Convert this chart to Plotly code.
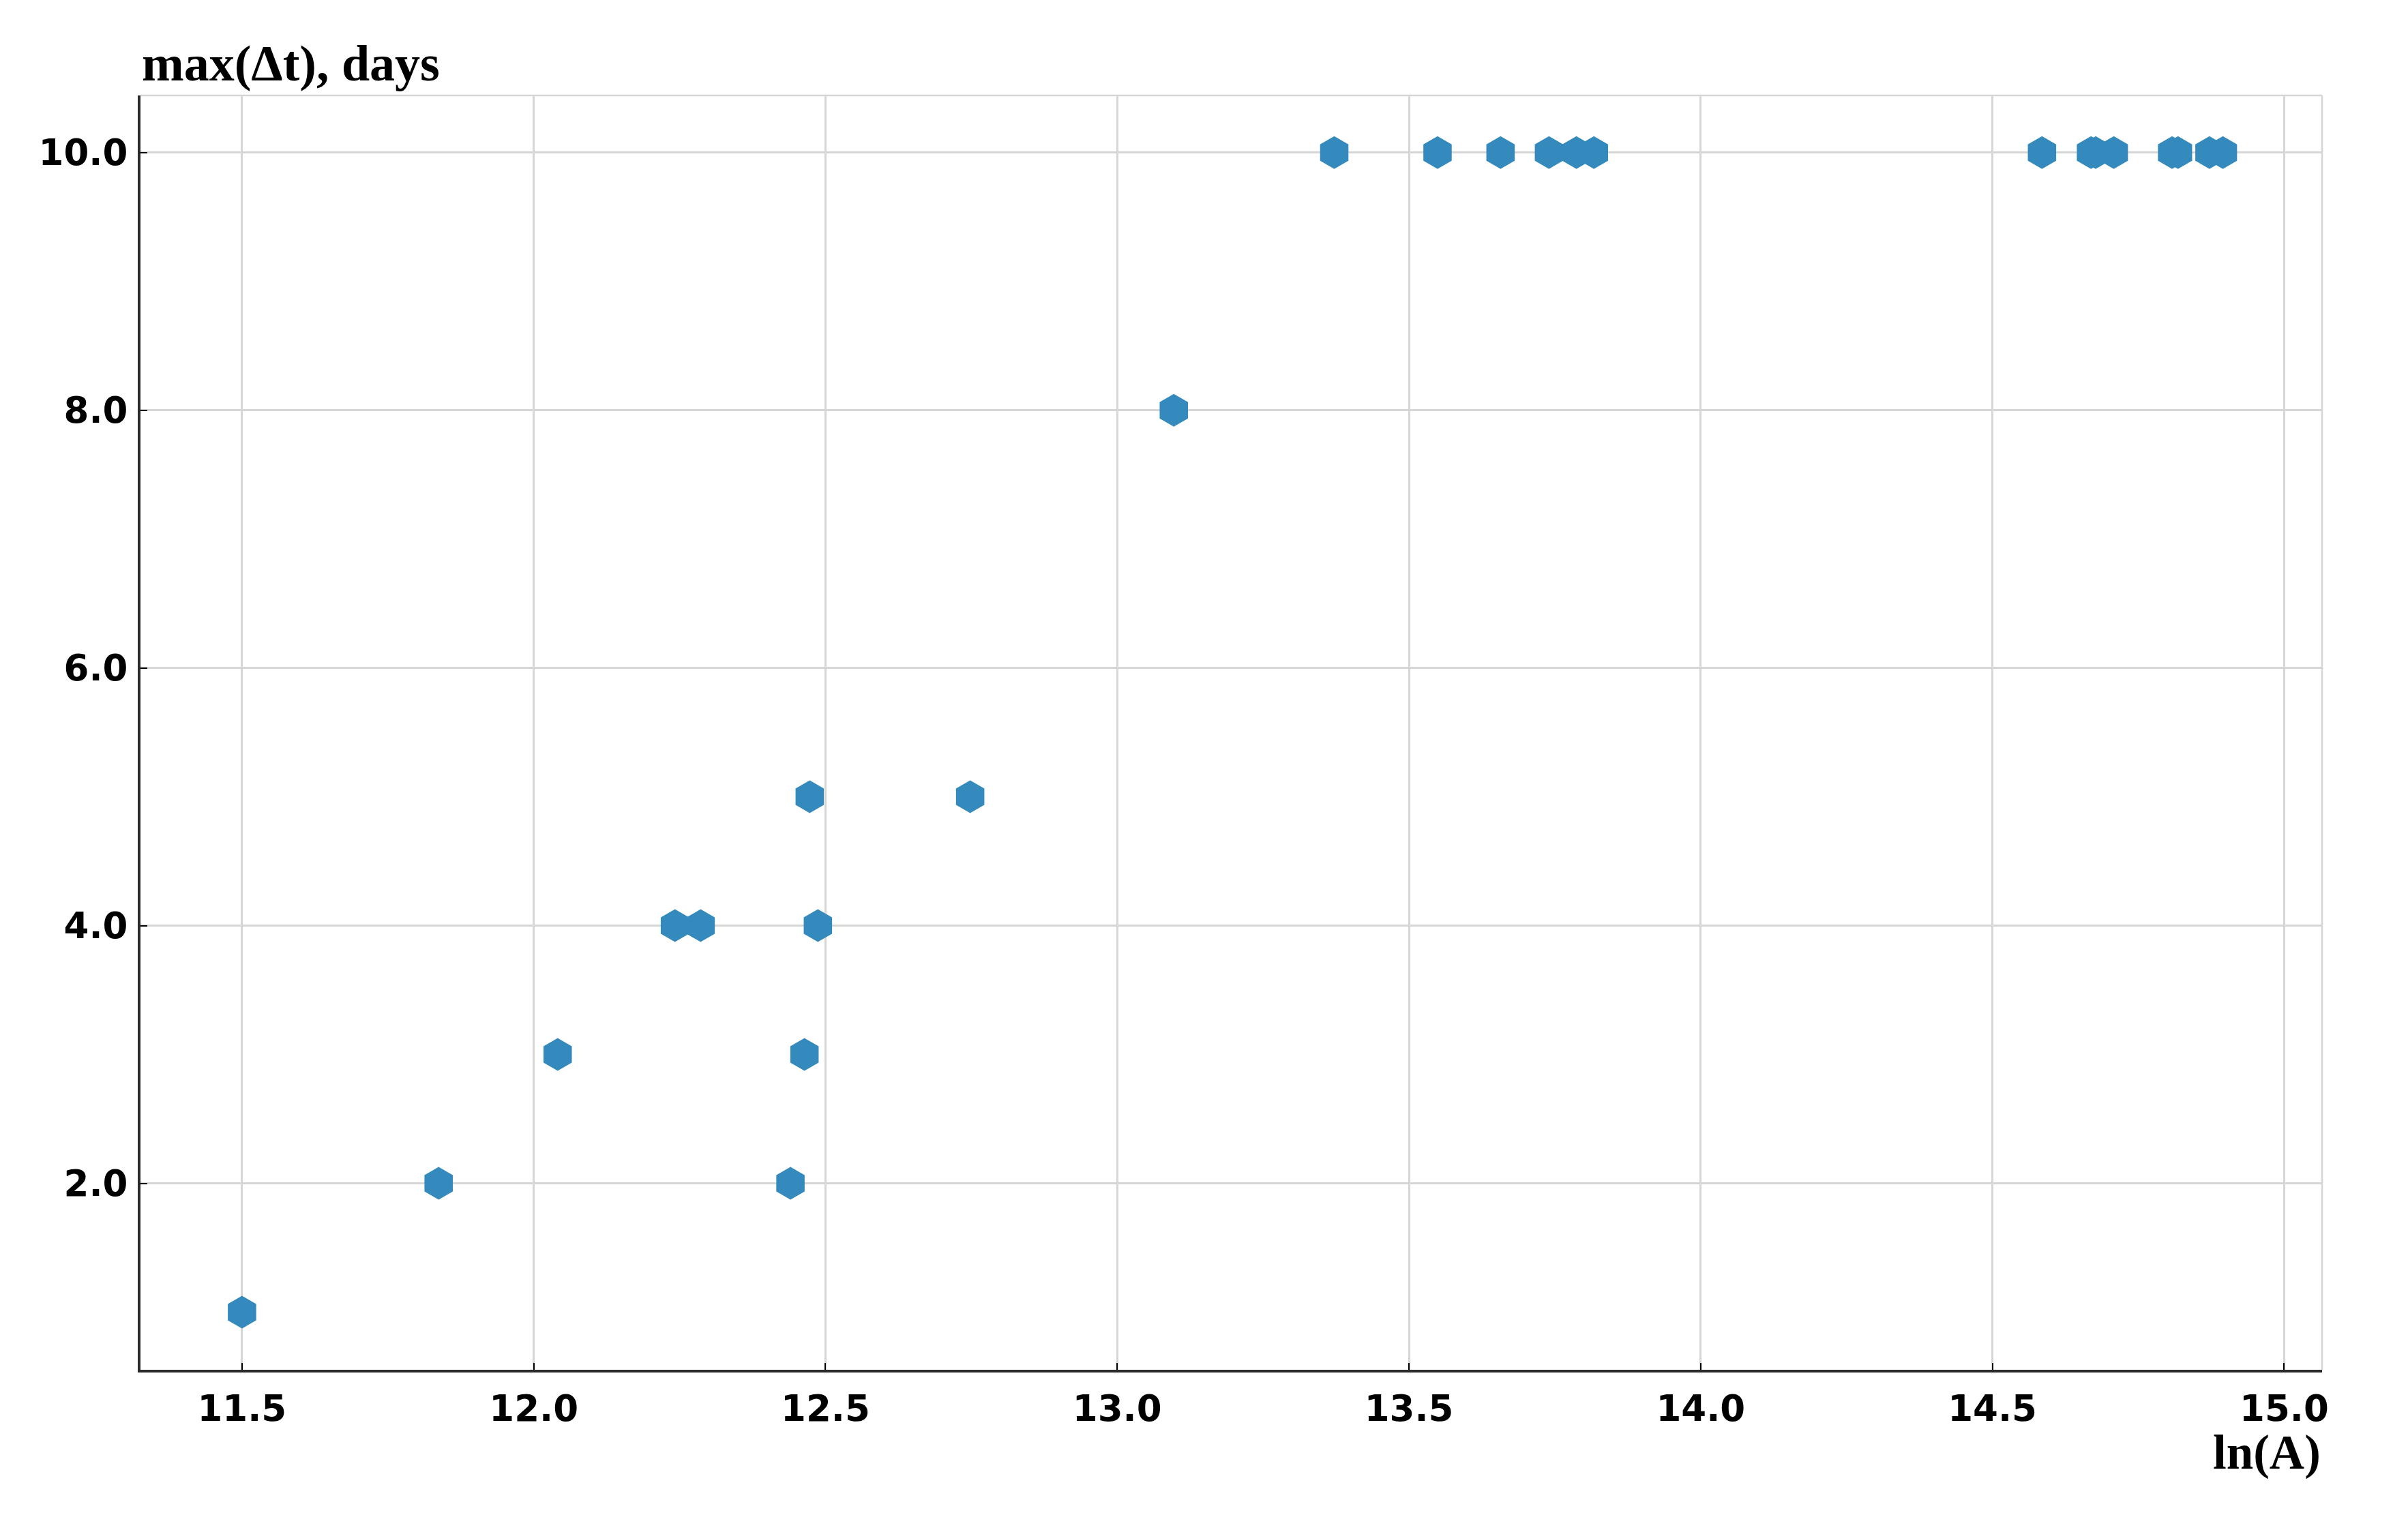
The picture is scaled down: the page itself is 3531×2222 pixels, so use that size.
import plotly.graph_objects as go

# Data
ln_A = [11.500, 11.837, 12.041, 12.242, 12.286, 12.440, 12.464, 12.473, 12.487,
        12.748, 13.097, 13.372, 13.549, 13.657, 13.740, 13.787, 13.817,
        14.585, 14.669, 14.677, 14.708, 14.808, 14.818, 14.872, 14.895]
max_dt = [1, 2, 3, 4, 4, 2, 3, 5, 4,
          5, 8, 10, 10, 10, 10, 10, 10,
          10, 10, 10, 10, 10, 10, 10, 10]

x_ticks = [11.5, 12.0, 12.5, 13.0, 13.5, 14.0, 14.5, 15.0]
y_ticks = [2.0, 4.0, 6.0, 8.0, 10.0]

x_title = "ln(A)"
y_title = "max(\u0394t), days"

# page body has an 8px margin, so the figure is placed 8px in from the top-left
W, H = 3515, 2206
ML, MR, MT, MB = 198, 118, 132, 205

fig = go.Figure()
fig.add_trace(go.Scatter(
    x=ln_A, y=max_dt, mode="markers",
    marker=dict(symbol="hexagon", size=48, color="#348ABD", line=dict(width=0)),
    showlegend=False, hoverinfo="x+y",
))

tick_font = dict(family="DejaVu Sans", size=53, color="black", weight="bold")
grid_col = "#d6d6d6"
spine_col = "#2b2b2b"

fig.update_layout(
    width=W, height=H,
    margin=dict(l=ML, r=MR, t=MT, b=MB, pad=0),
    paper_bgcolor="white", plot_bgcolor="white",
    xaxis=dict(
        range=[11.326, 15.065], tickvals=x_ticks, tickformat=".1f",
        showgrid=True, gridcolor=grid_col, gridwidth=2.5,
        zeroline=False, showline=True, linecolor=spine_col, linewidth=4,
        ticks="inside", ticklen=10, tickwidth=2, tickcolor="black",
        tickfont=tick_font, ticklabelstandoff=7,
    ),
    yaxis=dict(
        range=[0.553, 10.443], tickvals=y_ticks, tickformat=".1f",
        showgrid=True, gridcolor=grid_col, gridwidth=2.5,
        zeroline=False, showline=True, linecolor=spine_col, linewidth=4,
        ticks="inside", ticklen=10, tickwidth=2, tickcolor="black",
        tickfont=tick_font, ticklabelstandoff=4,
    ),
    shapes=[
        dict(type="line", xref="paper", yref="paper", x0=0, x1=1, y0=1, y1=1,
             line=dict(color=grid_col, width=2.5), layer="below"),
        dict(type="line", xref="paper", yref="paper", x0=1, x1=1, y0=0, y1=1,
             line=dict(color=grid_col, width=2.5), layer="below"),
    ],
    annotations=[
        dict(text=y_title, xref="paper", yref="paper", x=0, y=1,
             xanchor="left", yanchor="bottom", showarrow=False, xshift=0, yshift=4,
             font=dict(family="Liberation Serif", size=74, color="black", weight="bold")),
        dict(text=x_title, xref="paper", yref="paper", x=1, y=0,
             xanchor="right", yanchor="top", showarrow=False, xshift=0, yshift=-80,
             font=dict(family="Liberation Serif", size=71, color="black", weight="bold")),
    ],
)

fig.write_html("out.html")
